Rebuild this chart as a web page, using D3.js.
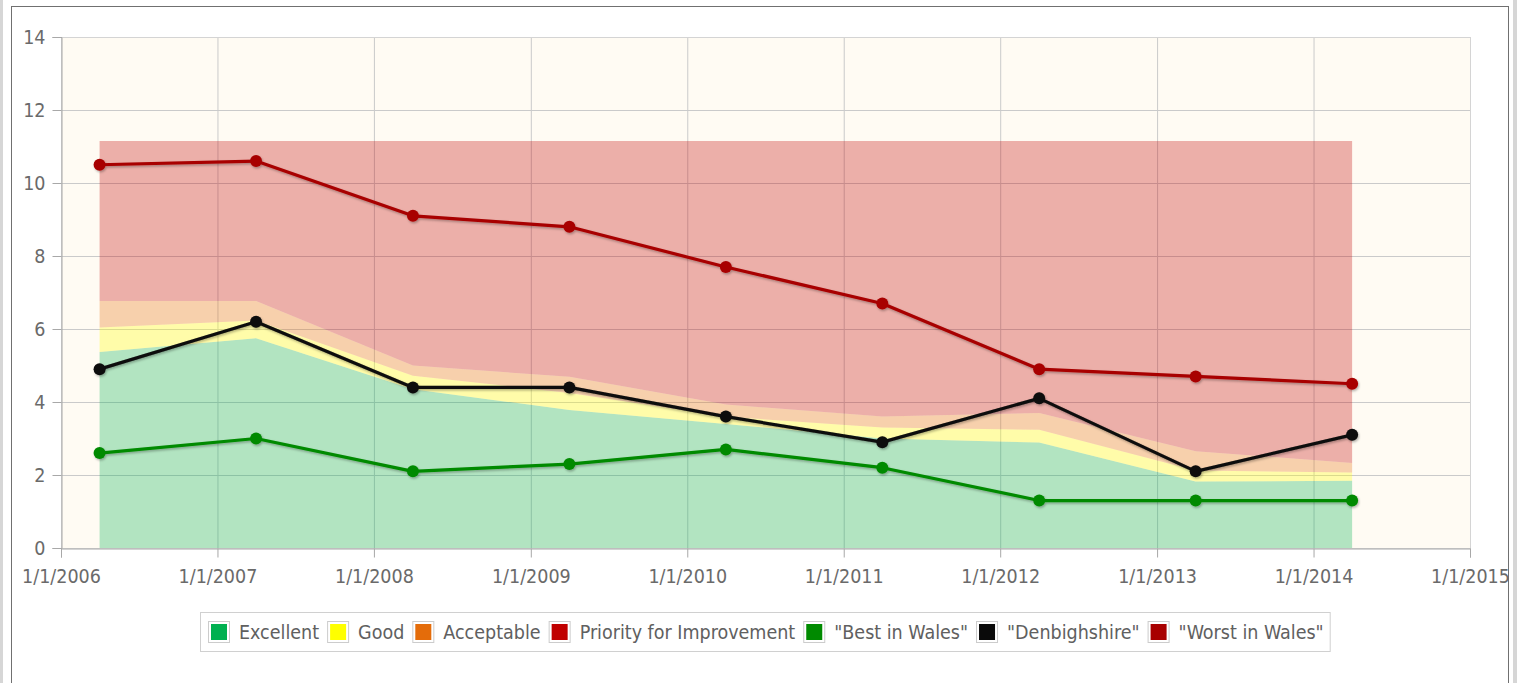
<!DOCTYPE html>
<html>
<head>
<meta charset="utf-8">
<script src="https://cdn.jsdelivr.net/npm/d3@7"></script>
<style>
    body { margin: 0; background: #fff; }
    svg { display: block; }
    .tickText { font-family: "DejaVu Sans Condensed", "DejaVu Sans", sans-serif; font-size: 19.5px; fill: #6a6a6a; }
    .legendText { font-family: "DejaVu Sans Condensed", "DejaVu Sans", sans-serif; font-size: 19.5px; fill: #606060; }
</style>
</head>
<body>
<script>
//data, one point per year
var dates = ["2006-04-01", "2007-04-01", "2008-04-01", "2009-04-01", "2010-04-01",
             "2011-04-01", "2012-04-01", "2013-04-01", "2014-04-01"];

//band thicknesses (stacked)
var excellent = [5.37, 5.75, 4.35, 3.78, 3.40, 3.00, 2.89, 1.82, 1.84];
var good = [0.67, 0.48, 0.37, 0.47, 0.20, 0.30, 0.35, 0.30, 0.23];
var acceptable = [0.73, 0.54, 0.28, 0.44, 0.33, 0.30, 0.46, 0.53, 0.26];
var priority = [4.38, 4.38, 6.15, 6.46, 7.22, 7.55, 7.45, 8.50, 8.82];

//lines
var bestInWales = [2.6, 3.0, 2.1, 2.3, 2.7, 2.2, 1.3, 1.3, 1.3];
var denbighshire = [4.9, 6.2, 4.4, 4.4, 3.6, 2.9, 4.1, 2.1, 3.1];
var worstInWales = [10.5, 10.6, 9.1, 8.8, 7.7, 6.7, 4.9, 4.7, 4.5];

var yTicks = [0, 2, 4, 6, 8, 10, 12, 14];
var xTickYears = [2006, 2007, 2008, 2009, 2010, 2011, 2012, 2013, 2014, 2015];

var bandNames = ["Excellent", "Good", "Acceptable", "Priority for Improvement"];
var bandColors = ["#00b050", "#ffff00", "#e46c0a", "#c00000"];
var lineNames = ['"Best in Wales"', '"Denbighshire"', '"Worst in Wales"'];
var lineColors = ["#008a00", "#0a0a0a", "#a80000"];

function drawChart(){
    var width = 1520,
        height = 683;
    var left = 61, right = 1470, top = 37, bottom = 548;

    var svg = d3.select("body")
        .append("svg")
        .attr("width", width)
        .attr("height", height);

    //shadow for lines and markers
    var filter = svg.append("defs").append("filter")
        .attr("id", "shadow")
        .attr("x", "-20%").attr("y", "-20%")
        .attr("width", "140%").attr("height", "140%");
    filter.append("feDropShadow")
        .attr("dx", 1).attr("dy", 1.5)
        .attr("stdDeviation", 1.2)
        .attr("flood-color", "#000")
        .attr("flood-opacity", 0.3);

    //outer frame
    svg.append("rect").attr("x", 0).attr("y", 0).attr("width", 3).attr("height", height).attr("fill", "#d6d6d6");
    svg.append("rect").attr("x", 1513).attr("y", 0).attr("width", 4).attr("height", height).attr("fill", "#d6d6d6");
    svg.append("rect")
        .attr("x", 11.5).attr("y", 6.5)
        .attr("width", 1497).attr("height", 700)
        .attr("fill", "#fff")
        .attr("stroke", "#707070");

    var parse = d3.timeParse("%Y-%m-%d");
    var rows = dates.map(function(d, i){
        return {
            date: parse(d),
            excellent: excellent[i],
            good: good[i],
            acceptable: acceptable[i],
            priority: priority[i]
        };
    });

    var x = d3.scaleTime()
        .domain([new Date(2006, 0, 1), new Date(2015, 0, 1)])
        .range([left, right]);
    var y = d3.scaleLinear()
        .domain([0, 14])
        .range([bottom, top]);

    //plot background
    svg.append("rect")
        .attr("x", left).attr("y", top)
        .attr("width", right - left).attr("height", bottom - top)
        .attr("fill", "#fffbf3");

    //grid
    var tickDates = xTickYears.map(function(yr){ return new Date(yr, 0, 1); });
    svg.append("g")
        .attr("transform", "translate(0," + bottom + ")")
        .call(d3.axisBottom(x).tickValues(tickDates).tickSize(-(bottom - top)).tickFormat(""))
        .call(function(g){
            g.select(".domain").remove();
            g.selectAll("line").attr("stroke", "#cacaca");
        });
    svg.append("g")
        .attr("transform", "translate(" + left + ",0)")
        .call(d3.axisLeft(y).tickValues(yTicks).tickSize(-(right - left)).tickFormat(""))
        .call(function(g){
            g.select(".domain").remove();
            g.selectAll("line").attr("stroke", "#cacaca");
        });

    //stacked bands
    var stack = d3.stack().keys(["excellent", "good", "acceptable", "priority"]);
    var series = stack(rows);
    var area = d3.area()
        .x(function(d){ return x(d.data.date); })
        .y0(function(d){ return y(d[0]); })
        .y1(function(d){ return y(d[1]); });
    svg.selectAll(".band")
        .data(series)
        .enter()
        .append("path")
        .attr("class", "band")
        .attr("d", area)
        .attr("fill", function(d, i){ return bandColors[i]; })
        .attr("fill-opacity", 0.3);

    //plot border
    svg.append("rect")
        .attr("x", left + 0.5).attr("y", top + 0.5)
        .attr("width", right - left).attr("height", bottom - top)
        .attr("fill", "none")
        .attr("stroke", "#d4d4d4");

    //axes
    var xAxis = svg.append("g")
        .attr("transform", "translate(0," + (bottom + 0.5) + ")")
        .call(d3.axisBottom(x).tickValues(tickDates).tickSize(9).tickPadding(12)
            .tickFormat(d3.timeFormat("%-m/%-d/%Y")));
    var yAxis = svg.append("g")
        .attr("transform", "translate(" + (left + 0.5) + ",0)")
        .call(d3.axisLeft(y).tickValues(yTicks).tickSize(9).tickPadding(7));
    [xAxis, yAxis].forEach(function(g){
        g.select(".domain").attr("stroke", "#a8a8a8");
        g.selectAll(".tick line").attr("stroke", "#a8a8a8");
        g.selectAll(".tick text").attr("class", "tickText").attr("fill", null);
    });

    //lines with markers
    var lineData = [bestInWales, denbighshire, worstInWales];
    var line = d3.line()
        .x(function(d, i){ return x(rows[i].date); })
        .y(function(d){ return y(d); });
    lineData.forEach(function(vals, k){
        var g = svg.append("g").attr("filter", "url(#shadow)");
        g.append("path")
            .datum(vals)
            .attr("d", line)
            .attr("fill", "none")
            .attr("stroke", lineColors[k])
            .attr("stroke-width", 3.2)
            .attr("stroke-linejoin", "round");
        g.selectAll("circle")
            .data(vals)
            .enter()
            .append("circle")
            .attr("cx", function(d, i){ return x(rows[i].date); })
            .attr("cy", function(d){ return y(d); })
            .attr("r", 6)
            .attr("fill", lineColors[k]);
    });

    //legend
    var legendItems = bandNames.map(function(n, i){ return {name: n, color: bandColors[i]}; })
        .concat(lineNames.map(function(n, i){ return {name: n, color: lineColors[i]}; }));
    var legend = svg.append("g");
    var legendBox = legend.append("rect");
    var cursor = 0;
    legendItems.forEach(function(item){
        var it = legend.append("g").attr("transform", "translate(" + cursor + ",0)");
        it.append("rect")
            .attr("x", 0.5).attr("y", 0.5)
            .attr("width", 21).attr("height", 21)
            .attr("fill", "#fff")
            .attr("stroke", "#cccccc");
        it.append("rect")
            .attr("x", 3).attr("y", 3)
            .attr("width", 16).attr("height", 16)
            .attr("fill", item.color);
        var t = it.append("text")
            .attr("class", "legendText")
            .attr("x", 31).attr("y", 11)
            .attr("dy", "0.35em")
            .text(item.name);
        cursor += 31 + t.node().getComputedTextLength() + 8;
    });
    var legendWidth = cursor - 8;
    var legendX = Math.round((left + right) / 2 - legendWidth / 2);
    legend.attr("transform", "translate(" + legendX + ",621)");
    legendBox
        .attr("x", -7.5).attr("y", -8.5)
        .attr("width", legendWidth + 14).attr("height", 39)
        .attr("fill", "#fff")
        .attr("stroke", "#d0d0d0");
}

drawChart();
</script>
</body>
</html>
